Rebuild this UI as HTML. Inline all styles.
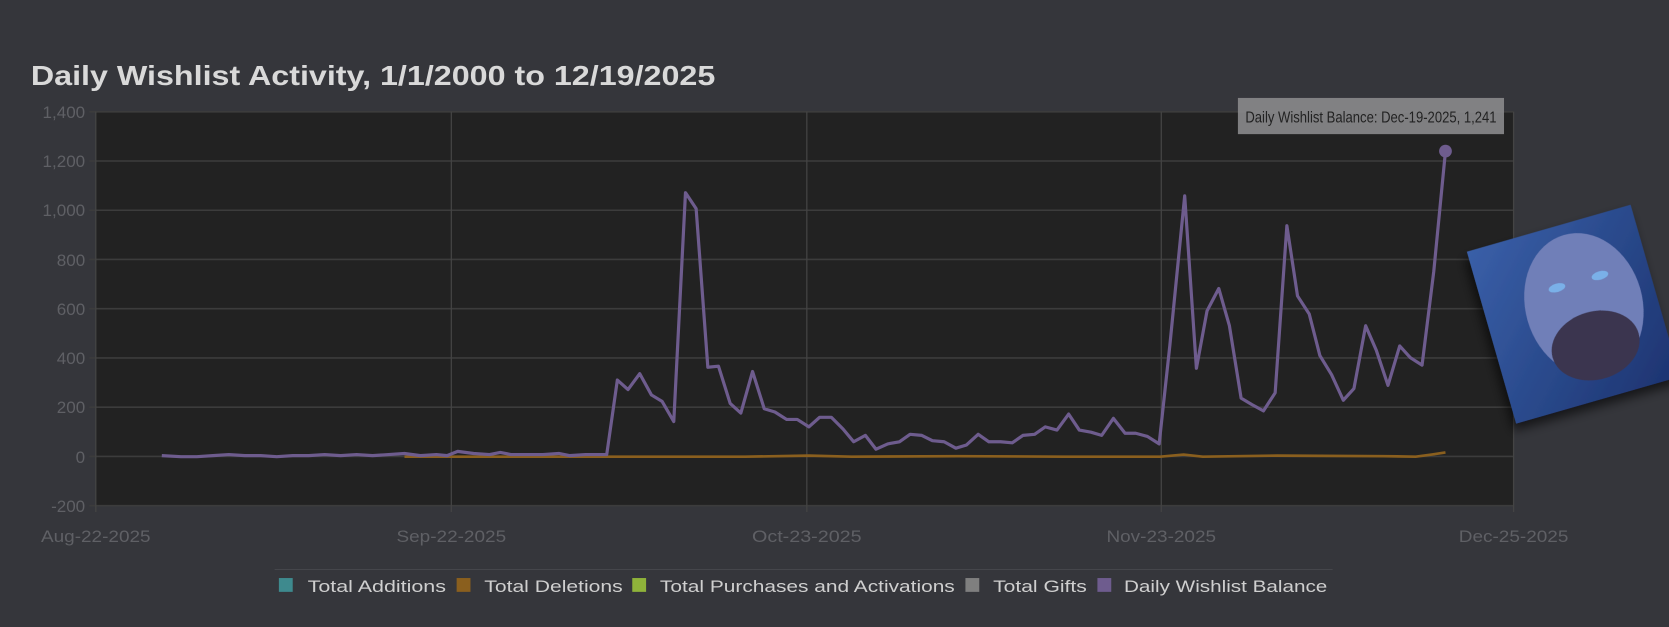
<!DOCTYPE html>
<html><head><meta charset="utf-8"><style>
html,body{margin:0;padding:0;background:#35363b;width:1669px;height:627px;overflow:hidden}
svg{display:block}
text{font-family:"Liberation Sans","DejaVu Sans",sans-serif}
</style></head><body>
<svg width="1669" height="627" viewBox="0 0 1568 589" preserveAspectRatio="none">
<defs>
<linearGradient id="ph" x1="0" y1="0" x2="1" y2="1">
<stop offset="0" stop-color="#3a5fa8"/><stop offset="0.5" stop-color="#2a4a8c"/><stop offset="1" stop-color="#1d3370"/>
</linearGradient>
<filter id="sh" x="-20%" y="-20%" width="150%" height="150%"><feDropShadow dx="-4" dy="6" stdDeviation="5" flood-color="#000" flood-opacity="0.6"/></filter>
</defs>
<rect width="1568" height="589" fill="#35363b"/>
<text x="29" y="80" font-size="26" font-weight="bold" fill="#d9d9d9" textLength="643" lengthAdjust="spacingAndGlyphs">Daily Wishlist Activity, 1/1/2000 to 12/19/2025</text>
<rect x="90" y="105" width="1332" height="370" fill="#222222"/>
<g stroke="#3c3c3c" stroke-width="1.5">
<line x1="84" y1="105" x2="1422" y2="105"/><line x1="84" y1="151.25" x2="1422" y2="151.25"/>
<line x1="84" y1="197.5" x2="1422" y2="197.5"/><line x1="84" y1="243.75" x2="1422" y2="243.75"/>
<line x1="84" y1="290" x2="1422" y2="290"/><line x1="84" y1="336.25" x2="1422" y2="336.25"/>
<line x1="84" y1="382.5" x2="1422" y2="382.5"/><line x1="84" y1="428.75" x2="1422" y2="428.75"/>
<line x1="84" y1="475" x2="1422" y2="475"/>
</g>
<g stroke="#444" stroke-width="1.2">
<line x1="90" y1="105" x2="90" y2="481"/><line x1="424" y1="105" x2="424" y2="481"/>
<line x1="758" y1="105" x2="758" y2="481"/><line x1="1091" y1="105" x2="1091" y2="481"/>
<line x1="1422" y1="105" x2="1422" y2="481"/>
</g>
<g font-size="16" fill="#5f6065" text-anchor="end">
<text x="80" y="111">1,400</text><text x="80" y="157">1,200</text><text x="80" y="203">1,000</text>
<text x="80" y="250">800</text><text x="80" y="296">600</text><text x="80" y="342">400</text>
<text x="80" y="388">200</text><text x="80" y="435">0</text><text x="80" y="481">-200</text>
</g>
<g font-size="16" fill="#5f6065" text-anchor="middle">
<text x="90" y="509" textLength="103" lengthAdjust="spacingAndGlyphs">Aug-22-2025</text><text x="424" y="509" textLength="103" lengthAdjust="spacingAndGlyphs">Sep-22-2025</text>
<text x="758" y="509" textLength="103" lengthAdjust="spacingAndGlyphs">Oct-23-2025</text><text x="1091" y="509" textLength="103" lengthAdjust="spacingAndGlyphs">Nov-23-2025</text>
<text x="1422" y="509" textLength="103" lengthAdjust="spacingAndGlyphs">Dec-25-2025</text>
</g>
<polyline fill="none" stroke="#8a5f1e" stroke-width="2.5" points="380,429 500,429 600,429 700,429 760,428 800,429 900,428.5 1000,429 1090,429 1112,427 1130,429 1200,428 1300,428.5 1330,429 1345,427 1358,425"/>
<polyline fill="none" stroke="#6e5c8e" stroke-width="3" stroke-linejoin="round" points="152,428 170,429 185,429 200,428 215,427 230,428 245,428 260,429 275,428 290,428 305,427 320,428 335,427 350,428 365,427 380,426 395,428 410,427 420,428 430,424 445,426 460,427 470,425 480,427 495,427 510,427 525,426 535,428 550,427 560,427 570,427 580,357 590,366 601,351 612,371 622,377 633,396 644,181 654,196 665,345 675,344 686,379 696,388 707,349 718,384 728,387 739,394 749,394 760,401 770,392 781,392 792,403 802,415 813,409 823,422 834,417 845,415 855,408 866,409 876,414 887,415 898,421 908,418 919,408 929,415 940,415 951,416 961,409 972,408 982,401 993,404 1004,389 1014,404 1025,406 1035,409 1046,393 1057,407 1067,407 1078,410 1089,417 1099,325 1113,184 1124,346 1134,292 1145,271 1155,306 1166,374 1176,380 1187,386 1198,369 1209,212 1219,278 1230,295 1240,334 1251,352 1262,376 1272,365 1283,306 1293,329 1304,362 1315,325 1325,336 1336,343 1347,255 1358,142"/>
<circle cx="1358" cy="142" r="6" fill="#6e5c8e"/>
<rect x="1163" y="92" width="250" height="34" fill="#8a8a8c" opacity="0.9"/>
<text x="1170" y="115" font-size="15" fill="#222" textLength="236" lengthAdjust="spacingAndGlyphs">Daily Wishlist Balance: Dec-19-2025, 1,241</text>
<g transform="rotate(-16 1475 295)" filter="url(#sh)">
<rect x="1398" y="212" width="160" height="168" fill="url(#ph)"/>
<ellipse cx="1490" cy="290" rx="55" ry="68" fill="#6f7fb8"/>
<ellipse cx="1490" cy="330" rx="42" ry="32" fill="#3b3550"/>
<ellipse cx="1470" cy="268" rx="8" ry="4" fill="#7ab0e8"/>
<ellipse cx="1512" cy="268" rx="8" ry="4" fill="#7ab0e8"/>
</g>
<line x1="258" y1="535" x2="1252" y2="535" stroke="#45464b" stroke-width="1"/>
<g font-size="16" fill="#cfcfcf">
<rect x="262" y="543" width="13" height="13" fill="#3e8a8e"/><text x="289" y="556" textLength="130" lengthAdjust="spacingAndGlyphs">Total Additions</text>
<rect x="429" y="543" width="13" height="13" fill="#8a5f1e"/><text x="455" y="556" textLength="130" lengthAdjust="spacingAndGlyphs">Total Deletions</text>
<rect x="594" y="543" width="13" height="13" fill="#8fb33a"/><text x="620" y="556" textLength="277" lengthAdjust="spacingAndGlyphs">Total Purchases and Activations</text>
<rect x="907" y="543" width="13" height="13" fill="#7f7f7f"/><text x="933" y="556" textLength="88" lengthAdjust="spacingAndGlyphs">Total Gifts</text>
<rect x="1031" y="543" width="13" height="13" fill="#6e5c8e"/><text x="1056" y="556" textLength="191" lengthAdjust="spacingAndGlyphs">Daily Wishlist Balance</text>
</g>
</svg>
</body></html>
